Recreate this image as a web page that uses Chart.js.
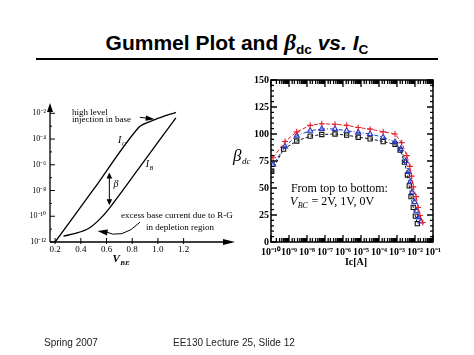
<!DOCTYPE html>
<html>
<head>
<meta charset="utf-8">
<script src="https://cdn.jsdelivr.net/npm/chart.js@4.4.0/dist/chart.umd.min.js"></script>
<style>
  body { margin: 0; width: 474px; height: 355px; background: #fff; position: relative; overflow: hidden; font-family: "Liberation Sans", Arial, sans-serif; }
  canvas { position: absolute; left: 0; top: 0; }
  #title { position: absolute; top: 30px; left: 0; width: 474px; text-align: center; font-weight: bold; font-size: 21px; line-height: 26px; color: #000; }
  #title .b { font-family: "Liberation Serif", serif; font-style: italic; font-size: 23px; }
  #title sub { font-size: 65%; vertical-align: -0.3em; line-height: 0; }
  #rule { position: absolute; left: 36px; width: 402px; top: 58px; height: 2px; background: #000; }
  .foot { position: absolute; top: 337px; font-size: 10px; line-height: 12px; color: #222; }
</style>
</head>
<body>
<div id="title">Gummel Plot and <span class="b">β</span><sub>dc</sub> <i>vs. I</i><sub>C</sub></div>
<div id="rule"></div>
<canvas id="gummel" width="474" height="355"></canvas>
<canvas id="beta" width="474" height="355"></canvas>
<div class="foot" style="left:44px">Spring 2007</div>
<div class="foot" style="left:173px">EE130 Lecture 25, Slide 12</div>
<script>
"use strict";

// Gummel plot (VBE in volts, log10 of current)
const vbeIc = [0.2, 0.5, 0.85, 0.98, 1.14];
const logIc = [-12, -7.9, -3.1, -2.48, -1.92];
const vbeIb = [0.265, 0.37, 0.46, 0.54, 0.62, 0.85, 1.14];
const logIb = [-11.55, -11.3, -10.95, -10.3, -9.4, -6.3, -2.35];
const gummelExps = [-12, -10, -8, -6, -4, -2];
const vbeTicks = [0.2, 0.4, 0.6, 0.8, 1.0, 1.2];

// beta_dc vs Ic, VBC = 2V (top), 1V, 0V (bottom)
const icTop = [1.3e-10, 6e-10, 2.7e-9, 1.5e-8, 6.6e-8, 3.6e-7, 1.6e-6, 7e-6, 3.2e-5, 1.7e-4, 7.8e-4, 1.8e-3, 3.5e-3, 5.2e-3, 6.5e-3, 8e-3, 1.15e-2, 1.5e-2, 1.9e-2, 2.7e-2];
const betaTop = [78, 93, 102, 108, 109.5, 109, 108, 106, 104.5, 102, 100, 92, 80, 70, 61, 51, 42, 32, 24.5, 18];
const icMid = [1.3e-10, 6e-10, 2.7e-9, 1.5e-8, 6.6e-8, 3.6e-7, 1.6e-6, 7e-6, 3.2e-5, 1.7e-4, 7.8e-4, 1.6e-3, 3e-3, 4.4e-3, 5.5e-3, 7e-3, 9.5e-3, 1.25e-2, 1.6e-2, 2.1e-2];
const betaMid = [71.5, 88.5, 98.5, 103, 104.7, 104.7, 103, 101.5, 100, 97, 92.5, 86, 75, 65, 56, 46, 37, 29, 23, 19];
const icBot = [1.1e-10, 5e-10, 2.7e-9, 1.5e-8, 6.6e-8, 3.6e-7, 1.6e-6, 7e-6, 3.2e-5, 1.7e-4, 7.8e-4, 1.5e-3, 2.6e-3, 3.8e-3, 4.8e-3, 6e-3, 8e-3, 1.05e-2, 1.35e-2];
const betaBot = [65.5, 86, 93.5, 98, 99.5, 100, 99, 97, 95.5, 93, 90.5, 85, 74, 62, 52, 42, 32, 24, 17];
const betaTicks = [0, 25, 50, 75, 100, 125, 150];

const SERIF = '"Liberation Serif", "Times New Roman", serif';
const sup = { "-": "⁻", "0": "⁰", "1": "¹", "2": "²", "3": "³", "4": "⁴", "5": "⁵", "6": "⁶", "7": "⁷", "8": "⁸", "9": "⁹" };
function pow10Label(e) {
  return "10" + String(e).split("").map(c => sup[c]).join("");
}

function toPoints(xs, ys, logY) {
  return xs.map((x, i) => ({ x: x, y: logY ? Math.pow(10, ys[i]) : ys[i] }));
}

function arrowHead(ctx, x, y, ang, len, w) {
  ctx.save();
  ctx.translate(x, y);
  ctx.rotate(ang);
  ctx.beginPath();
  ctx.moveTo(0, 0);
  ctx.lineTo(-len, -w);
  ctx.lineTo(-len, w);
  ctx.closePath();
  ctx.fill();
  ctx.restore();
}

function subText(ctx, x, y, main, sub, mainFont, subFont) {
  ctx.font = mainFont;
  ctx.fillText(main, x, y);
  let w = ctx.measureText(main).width;
  ctx.font = subFont;
  ctx.fillText(sub, x + w + 0.5, y + 3);
  return w + ctx.measureText(sub).width;
}

const gummelMarks = {
  id: "gummelMarks",
  afterDraw(chart) {
    const { ctx, chartArea: a } = chart;
    const xs = chart.scales.x, ys = chart.scales.y;
    const px = v => xs.getPixelForValue(v);
    const py = e => ys.getPixelForValue(Math.pow(10, e));
    ctx.save();
    ctx.strokeStyle = "#000";
    ctx.fillStyle = "#000";
    ctx.lineWidth = 1.3;
    // axes with arrows
    ctx.beginPath();
    ctx.moveTo(a.left, a.bottom);
    ctx.lineTo(a.left, a.top + 6);
    ctx.moveTo(a.left, a.bottom);
    ctx.lineTo(a.right - 8, a.bottom);
    ctx.stroke();
    arrowHead(ctx, a.left, a.top, -Math.PI / 2, 9, 3);
    arrowHead(ctx, a.right, a.bottom, 0, 12, 3);
    ctx.lineWidth = 1;
    ctx.beginPath();
    for (let e = -12; e <= -2; e++) {
      const y = py(e);
      ctx.moveTo(a.left, y);
      ctx.lineTo(a.left + (e % 2 === 0 ? 5 : 2), y);
    }
    vbeTicks.forEach(v => {
      ctx.moveTo(px(v), a.bottom - 4);
      ctx.lineTo(px(v), a.bottom + 2);
    });
    ctx.stroke();

    // beta arrow between the curves
    const bx = px(0.622);
    ctx.beginPath();
    ctx.moveTo(bx, py(-6.6) + 5);
    ctx.lineTo(bx, py(-9.15) - 5);
    ctx.stroke();
    arrowHead(ctx, bx, py(-6.6), -Math.PI / 2, 6, 2.8);
    arrowHead(ctx, bx, py(-9.15), Math.PI / 2, 6, 2.8);

    // high level injection arrow
    ctx.beginPath();
    ctx.moveTo(px(0.86), py(-2.31));
    ctx.lineTo(px(0.95), py(-2.42));
    ctx.stroke();
    arrowHead(ctx, px(0.975), py(-2.46), Math.atan2(py(-2.46) - py(-2.31), px(0.975) - px(0.86)), 9, 2.6);

    // R-G arrow, curved
    const sx = px(0.86), sy = py(-10.46);
    const cx = px(0.72), cy = py(-11.9);
    const ex = px(0.53), ey = py(-11.15);
    ctx.beginPath();
    ctx.moveTo(sx, sy);
    ctx.quadraticCurveTo(cx, cy, ex + 6, ey);
    ctx.stroke();
    arrowHead(ctx, ex, ey, Math.PI + 0.15, 10, 3);

    ctx.textBaseline = "alphabetic";
    ctx.font = "9px " + SERIF;
    ctx.fillText("high level", px(0.331), py(-2.15));
    ctx.fillText("injection in base", px(0.331), py(-2.69));
    ctx.fillText("excess base current due to R-G", px(0.713), py(-10.15));
    ctx.fillText("in depletion region", px(0.907), py(-11.08));
    subText(ctx, px(0.69), py(-4.3), "I", "C", "italic 10px " + SERIF, "italic 6px " + SERIF);
    subText(ctx, px(0.905), py(-6.15), "I", "B", "italic 10px " + SERIF, "italic 6px " + SERIF);
    ctx.font = "italic 10px " + SERIF;
    ctx.fillText("β", px(0.655), py(-7.75));
    subText(ctx, px(0.6) + 6, a.bottom + 20, "V", "BE", "bold italic 11px " + SERIF, "bold italic 7px " + SERIF);
    ctx.restore();
  }
};

new Chart(document.getElementById("gummel"), {
  type: "line",
  data: {
    datasets: [
      { data: toPoints(vbeIc, logIc, true), borderColor: "#000", borderWidth: 1.3, pointRadius: 0, tension: 0.3 },
      { data: toPoints(vbeIb, logIb, true), borderColor: "#000", borderWidth: 1.3, pointRadius: 0, tension: 0.3 }
    ]
  },
  options: {
    responsive: false,
    animation: false,
    events: [],
    layout: { padding: { left: 20, right: 239, top: 103, bottom: 97 } },
    plugins: { legend: { display: false }, tooltip: { enabled: false } },
    scales: {
      x: {
        type: "linear", min: 0.16, max: 1.6,
        grid: { display: false, drawTicks: false },
        border: { display: false },
        afterBuildTicks: s => { s.ticks = vbeTicks.map(v => ({ value: v })); },
        afterFit: s => { s.height = 16; },
        ticks: { padding: 2, color: "#000", font: { family: SERIF, size: 9 }, callback: v => v.toFixed(1), maxRotation: 0, autoSkip: false }
      },
      y: {
        type: "logarithmic", min: 1e-12, max: Math.pow(10, -1.2),
        grid: { display: false, drawTicks: false },
        border: { display: false },
        afterBuildTicks: s => { s.ticks = gummelExps.map(e => ({ value: Math.pow(10, e) })); },
        afterFit: s => { s.width = 30; },
        ticks: { padding: 4, color: "#000", font: { family: SERIF, size: 8 }, autoSkip: false,
          callback: v => pow10Label(Math.round(Math.log10(v))) }
      }
    }
  },
  plugins: [gummelMarks]
});

function isPow10(v) {
  const l = Math.log10(v);
  return Math.abs(l - Math.round(l)) < 1e-6;
}

const betaFrame = {
  id: "betaFrame",
  afterDraw(chart) {
    const { ctx, chartArea: a } = chart;
    const xs = chart.scales.x, ys = chart.scales.y;
    ctx.save();
    ctx.strokeStyle = "#000";
    ctx.fillStyle = "#000";
    ctx.lineWidth = 1.5;
    ctx.strokeRect(a.left, a.top, a.right - a.left, a.bottom - a.top);
    ctx.lineWidth = 1.3;
    ctx.beginPath();
    xs.ticks.forEach(t => {
      const x = xs.getPixelForValue(t.value);
      if (x < a.left - 0.5 || x > a.right + 0.5) return;
      const l = isPow10(t.value) ? 7 : 4;
      ctx.moveTo(x, a.bottom);
      ctx.lineTo(x, a.bottom - l);
      ctx.moveTo(x, a.top);
      ctx.lineTo(x, a.top + l);
    });
    for (let v = 0; v <= 150; v += 5) {
      const y = ys.getPixelForValue(v);
      const l = v % 25 === 0 ? 6 : 3;
      ctx.moveTo(a.left, y);
      ctx.lineTo(a.left + l, y);
      ctx.moveTo(a.right, y);
      ctx.lineTo(a.right - l, y);
    }
    ctx.stroke();

    const tx = xs.getPixelForValue(Math.pow(10, -8.95));
    ctx.font = "12px " + SERIF;
    ctx.fillText("From top to bottom:", tx + 1, ys.getPixelForValue(46.3));
    let w = subText(ctx, tx, ys.getPixelForValue(34.3), "V", "BC", "italic 12px " + SERIF, "italic 8px " + SERIF);
    ctx.font = "12px " + SERIF;
    ctx.fillText(" = 2V, 1V, 0V", tx + w + 1, ys.getPixelForValue(34.3));

    subText(ctx, a.left - 38, ys.getPixelForValue(78) + 3, "β", "dc", "italic 17px " + SERIF, "italic 9px " + SERIF);
    ctx.font = "bold 10px " + SERIF;
    ctx.textAlign = "center";
    ctx.fillText("Ic[A]", (a.left + a.right) / 2 + 4, a.bottom + 23);
    ctx.restore();
  }
};

function betaSet(xs, ys, color, style, dash) {
  return {
    data: toPoints(xs, ys, false),
    borderColor: color, borderWidth: 1, borderDash: dash,
    pointStyle: style, pointRadius: 3, pointBorderWidth: 1.1,
    pointBorderColor: color, pointBackgroundColor: "rgba(0,0,0,0)",
    tension: 0
  };
}

new Chart(document.getElementById("beta"), {
  type: "line",
  data: {
    datasets: [
      betaSet(icTop, betaTop, "#e3202a", "cross", [4, 2]),
      betaSet(icMid, betaMid, "#2238c8", "triangle", [4, 2, 1, 2]),
      betaSet(icBot, betaBot, "#111111", "rect", [3, 2])
    ]
  },
  options: {
    responsive: false,
    animation: false,
    events: [],
    layout: { padding: { left: 249, right: 41, top: 80, bottom: 99 } },
    plugins: { legend: { display: false }, tooltip: { enabled: false } },
    scales: {
      x: {
        type: "logarithmic", min: 1e-10, max: 1e-1,
        grid: { display: false, drawTicks: false },
        border: { display: false },
        afterFit: s => { s.height = 14; },
        ticks: { padding: 4, color: "#000", font: { family: SERIF, size: 10, weight: "bold" }, autoSkip: false, maxRotation: 0,
          callback: v => isPow10(v) ? pow10Label(Math.round(Math.log10(v))) : "" }
      },
      y: {
        type: "linear", min: 0, max: 150,
        grid: { display: false, drawTicks: false },
        border: { display: false },
        afterBuildTicks: s => { s.ticks = betaTicks.map(v => ({ value: v })); },
        afterFit: s => { s.width = 22; },
        ticks: { padding: 2, color: "#000", font: { family: SERIF, size: 10, weight: "bold" }, autoSkip: false }
      }
    }
  },
  plugins: [betaFrame]
});
</script>
</body>
</html>
